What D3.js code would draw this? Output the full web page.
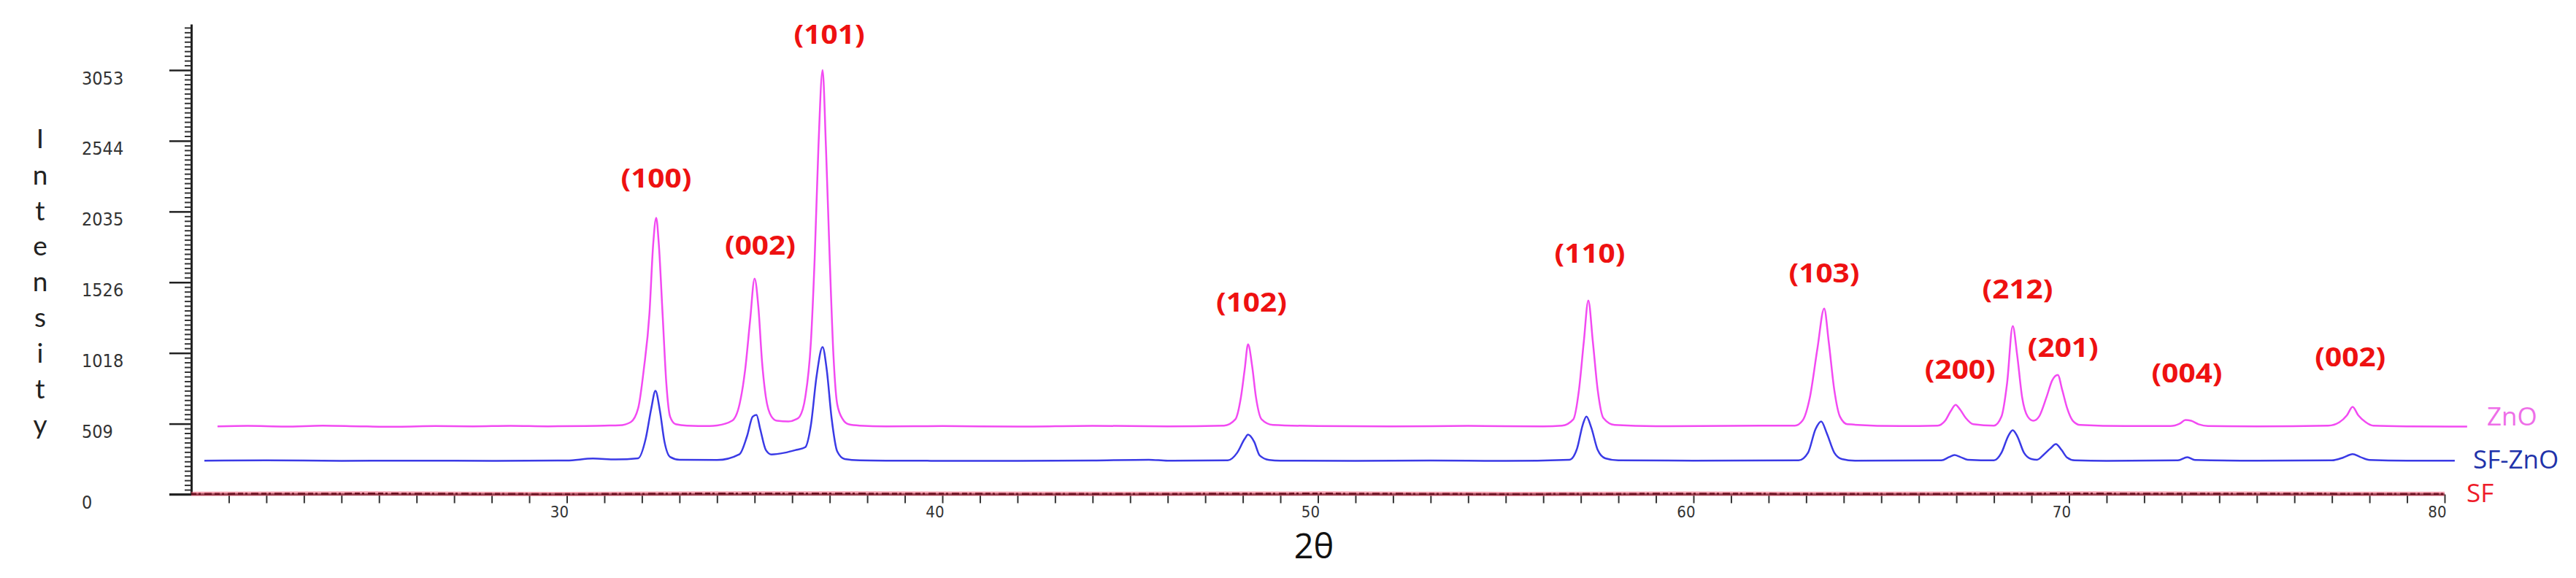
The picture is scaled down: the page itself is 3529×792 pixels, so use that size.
<!DOCTYPE html>
<html>
<head>
<meta charset="utf-8">
<script src="https://cdn.jsdelivr.net/npm/d3@7"></script>
<style>
html,body{margin:0;padding:0;background:#fff;}
svg{display:block;}
</style>
</head>
<body>
<script>
// ---------- data ----------
// ZnO pattern: [2θ, intensity]
const znoAngles = [20.7,21.5,22.5,23.5,24.5,25.5,26.5,27.5,28.5,29.5,30.5,31.0,31.4,31.7,31.9,32.05,32.2,32.3,32.38,32.45,32.55,32.65,32.75,32.9,33.2,33.8,34.0,34.4,34.6,34.75,34.88,35.0,35.1,35.2,35.3,35.45,35.6,35.9,36.1,36.2,36.35,36.5,36.6,36.7,36.81,36.9,37.0,37.1,37.2,37.35,37.5,37.8,38.5,40,42,44,46,47.5,47.8,47.95,48.05,48.14,48.25,48.35,48.5,48.8,50,52,54,56,56.5,56.8,56.95,57.08,57.2,57.32,57.45,57.6,57.9,59,61,62.7,62.9,63.1,63.3,63.48,63.6,63.75,63.9,64.1,65.5,66.5,66.7,66.85,66.98,67.1,67.25,67.45,68.0,68.2,68.35,68.5,68.62,68.75,68.9,69.05,69.2,69.4,69.55,69.7,69.82,69.95,70.1,70.3,71.5,72.7,72.95,73.1,73.25,73.45,73.7,75,76.9,77.2,77.4,77.55,77.7,77.9,78.1,79,80.6];
const znoIntensity = [490,493,488,495,490,487,492,490,494,490,492,495,497,520,620,900,1300,1800,1990,1800,1300,800,560,505,495,492,496,530,650,900,1250,1553,1350,950,700,560,530,525,540,560,700,1100,1700,2500,3053,2500,1700,1000,650,540,505,495,490,492,488,494,490,495,540,700,900,1080,920,700,540,500,492,489,493,490,495,540,750,1100,1396,1100,750,550,500,491,494,495,530,700,1050,1338,1100,750,560,505,492,495,530,600,645,610,550,505,495,560,800,1212,1000,700,560,530,560,700,820,860,750,620,530,500,492,492,510,535,530,505,492,490,495,520,570,630,570,520,495,490,488];

// SF-ZnO pattern
const sfZnoAngles = [20.35,22,24,26,28,30,30.7,31.3,31.9,32.1,32.25,32.36,32.48,32.6,32.75,33.0,34.0,34.6,34.8,34.95,35.05,35.15,35.3,35.45,35.8,36.1,36.35,36.5,36.65,36.81,36.92,37.05,37.2,37.4,37.8,38.5,40,42,44,45.5,46,47.6,47.85,48.05,48.14,48.3,48.45,48.7,49,51,53,55,56.7,56.9,57.05,57.15,57.28,57.45,57.65,58,60,62.8,63.05,63.25,63.4,63.55,63.75,63.95,64.3,66.6,66.8,66.95,67.1,67.3,68.0,68.2,68.38,68.5,68.62,68.8,69.0,69.15,69.3,69.5,69.65,69.8,69.95,70.15,71,72.9,73.15,73.35,75,77.0,77.3,77.55,77.75,78.0,79,80.27];
const sfZnoIntensity = [243,245,242,243,242,244,258,252,260,400,620,745,600,380,270,250,248,290,420,560,572,470,320,288,300,320,340,500,850,1060,900,550,310,255,245,243,242,241,244,250,243,245,300,400,430,380,280,248,243,242,244,241,250,330,500,561,480,320,260,245,243,245,300,470,525,440,300,255,243,245,268,283,270,250,245,300,420,462,420,300,255,250,280,330,362,320,265,245,242,245,268,248,243,245,265,290,270,248,243,243];

// SF pattern (flat on the baseline)
const sfAngles = [20.0,25.0,30.0,35.0,40.0,45.0,50.0,55.0,60.0,65.0,70.0,75.0,80.0];
const sfIntensity = [4,6,3,7,5,4,6,3,5,4,6,5,4];

// peak labels: Miller index, 2θ anchor, intensity anchor
const peakLabels = ["(100)","(002)","(101)","(102)","(110)","(103)","(200)","(212)","(201)","(004)","(002)"];
const peakLabelAngles = [32.38,35.15,36.99,48.23,57.24,63.48,67.1,68.63,69.84,73.14,77.49];
const peakLabelIntensity = [2255,1772,3294,1362,1714,1572,880,1457,1037,853,969];

// axes
const yTickValues = [0,508.8,1017.7,1526.5,2035.3,2544.2,3053];
const yTickLabels = ["0","509","1018","1526","2035","2544","3053"];
const xTickValues = [30,40,50,60,70,80];
const xTickLabels = ["30","40","50","60","70","80"];
const seriesNames = ["ZnO","SF-ZnO","SF"];

// ---------- drawing ----------
const W = 3529, H = 792;
const svg = d3.select("body").append("svg").attr("width", W).attr("height", H);

const x = d3.scaleLinear().domain([20, 80]).range([262, 3349]);
const y = d3.scaleLinear().domain([0, 3384]).range([677.5, 33]);

const narrow = "'Liberation Sans Narrow','DejaVu Sans Condensed','Arial Narrow',sans-serif";

// y minor ticks
const yMinor = d3.range(0, 3384, 508.83/15).filter((v,i)=> i % 15 !== 0);
const yMinorG = svg.append("g").attr("transform","translate(262,0)")
  .call(d3.axisLeft(y).tickValues(yMinor).tickSize(9).tickFormat("").tickSizeOuter(0));
yMinorG.select(".domain").remove();
yMinorG.selectAll("line").attr("stroke","#333").attr("stroke-width",2);

// y major ticks + labels
const yAxisG = svg.append("g").attr("transform","translate(262,0)")
  .call(d3.axisLeft(y).tickValues(yTickValues).tickSize(30).tickSizeOuter(0)
        .tickFormat((d,i)=>yTickLabels[i]));
yAxisG.select(".domain").attr("stroke","#222").attr("stroke-width",3);
yAxisG.selectAll("line").attr("stroke","#222").attr("stroke-width",2.5);
yAxisG.selectAll("text")
  .attr("x", 112-262).attr("dy", null).attr("y", 12)
  .attr("dominant-baseline","middle")
  .attr("text-anchor","start")
  .attr("font-family", narrow).attr("font-size", 25).attr("fill","#333");

// x axis
const xMinor = d3.range(21, 81);
const xAxisG = svg.append("g").attr("transform",`translate(0,${y(0)})`)
  .call(d3.axisBottom(x).tickValues(xMinor).tickSize(12).tickSizeOuter(0)
        .tickFormat(d => { const k = xTickValues.indexOf(d); return k>=0 ? xTickLabels[k] : ""; }));
xAxisG.select(".domain").remove();
xAxisG.selectAll("line").attr("stroke","#333").attr("stroke-width",2);
xAxisG.selectAll("text")
  .attr("text-anchor","end").attr("x", 2).attr("y", 16)
  .attr("font-family", narrow).attr("font-size", 22).attr("fill","#333");

// x axis line (extends left like a major tick)
svg.append("line").attr("x1", 232).attr("x2", x(80)).attr("y1", y(0)).attr("y2", y(0))
  .attr("stroke","#222").attr("stroke-width",3);

// lines
const line = d3.line().x(d=>x(d[0])).y(d=>y(d[1])).curve(d3.curveMonotoneX);
const zno = znoAngles.map((a,i)=>[a, znoIntensity[i]]);
const sfzno = sfZnoAngles.map((a,i)=>[a, sfZnoIntensity[i]]);
const sf = sfAngles.map((a,i)=>[a, sfIntensity[i]]);

svg.append("path").datum(sf).attr("d", line).attr("fill","none")
  .attr("stroke","#f0607a").attr("stroke-opacity",0.6).attr("stroke-width",6);
svg.append("path").datum(sf).attr("d", line).attr("fill","none")
  .attr("stroke","#6a1020").attr("stroke-width",2.5).attr("stroke-dasharray","7 3 3 5 10 4");

svg.append("path").datum(sfzno).attr("d", line).attr("fill","none")
  .attr("stroke","#3a3ae6").attr("stroke-width",2.5).attr("stroke-linejoin","round");
svg.append("path").datum(zno).attr("d", line).attr("fill","none")
  .attr("stroke","#f24af2").attr("stroke-width",2.5).attr("stroke-linejoin","round");

// peak labels
svg.append("g").selectAll("text").data(peakLabels).join("text")
  .attr("x",(d,i)=>x(peakLabelAngles[i]))
  .attr("y",(d,i)=>y(peakLabelIntensity[i]))
  .attr("text-anchor","middle").attr("dominant-baseline","middle")
  .attr("textLength",97).attr("lengthAdjust","spacingAndGlyphs")
  .attr("font-family","'Open Sans','Noto Sans',sans-serif").attr("font-weight","bold")
  .attr("font-size",35).attr("fill","#ee1111")
  .text(d=>d);

// series names at the right
const nameX = [3407, 3388, 3379];
const nameY = [574, 633, 679];
const nameColor = ["#ee6ee8","#1f33aa","#ee1c2a"];
svg.append("g").selectAll("text").data(seriesNames).join("text")
  .attr("x",(d,i)=>nameX[i]).attr("y",(d,i)=>nameY[i])
  .attr("dominant-baseline","middle")
  .attr("font-family","'Open Sans','Noto Sans',sans-serif").attr("font-size",35)
  .attr("fill",(d,i)=>nameColor[i]).text(d=>d);

// y axis title: vertical letters
const yTitle = "Intensity";
const letterY = [194,244,293,341,390,439,488,537,586];
svg.append("text")
  .attr("font-family","Lato,'Open Sans',sans-serif").attr("font-size",37)
  .attr("fill","#222").attr("text-anchor","middle")
  .selectAll("tspan").data(yTitle.split("")).join("tspan")
  .attr("x",55).attr("y",(d,i)=>letterY[i]).attr("dominant-baseline","middle")
  .text(d=>d);

// x axis title
svg.append("text").attr("x",1800).attr("y",752)
  .attr("text-anchor","middle").attr("dominant-baseline","middle")
  .attr("font-family","'Open Sans','Noto Sans',sans-serif").attr("font-size",47)
  .attr("fill","#111").text("2θ");
</script>
</body>
</html>
